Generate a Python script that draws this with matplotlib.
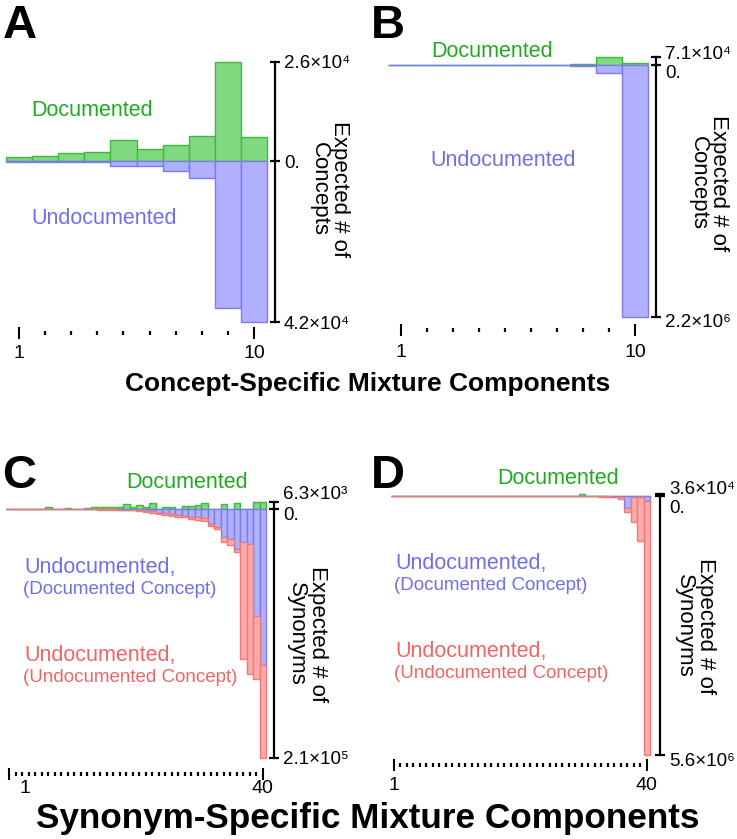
import matplotlib
matplotlib.use('Agg')
import matplotlib.pyplot as plt
import numpy as np
from matplotlib.transforms import ScaledTranslation

plt.rcParams['font.family'] = ['Liberation Sans', 'DejaVu Sans']

W, H, DPI = 737, 839, 100

# ---------------- data ----------------
# Panel A: concept-specific mixture components
a_components = list(range(1, 11))
a_documented = [1300, 1500, 2100, 2400, 5700, 3200, 4300, 6700, 26000, 6500]
a_undocumented = [100, 100, 200, 200, 1200, 1200, 2400, 4400, 38500, 42000]
a_ytick_labels = ['2.6×10⁴', '0.', '4.2×10⁴']
a_xtick_labels = ['1', '10']

# Panel B
b_components = list(range(1, 11))
b_documented = [0, 0, 0, 0, 200, 500, 1500, 3000, 71000, 14500]
b_undocumented = [300, 300, 400, 500, 1000, 2000, 4000, 14500, 73000, 2200000]
b_ytick_labels = ['7.1×10⁴', '0.', '2.2×10⁶']
b_xtick_labels = ['1', '10']

# Panel C: synonym-specific mixture components
c_components = list(range(1, 41))
c_documented = [0, 0, 0, 0, 100, 300, 1700, 200, 200, 1100,
                200, 200, 1100, 1400, 1400, 1700, 2200, 2200, 4500, 1700,
                3400, 2200, 5000, 300, 2200, 2200, 300, 2800, 2800, 3900,
                5000, 300, 500, 4500, 300, 5300, 300, 300, 6300, 6000]
c_undoc_doc_concept = [0, 0, 0, 0, 0, 10, 20, 30, 50, 60,
                       80, 100, 130, 160, 200, 250, 300, 380, 450, 560,
                       1100, 1700, 2000, 3400, 3400, 4500, 5000, 5600, 6400, 6900,
                       7800, 12500, 15400, 23500, 25800, 34000, 28000, 30000, 91000, 133000]
c_undoc_undoc_concept = [0, 0, 0, 0, 20, 30, 40, 50, 60, 80,
                         100, 120, 150, 180, 220, 260, 300, 350, 420, 540,
                         900, 1100, 1400, 1100, 1400, 1700, 1700, 1400, 1700, 2100,
                         2000, 2100, 2000, 4200, 5000, 2400, 100000, 110600, 53800, 79000]
c_ytick_labels = ['6.3×10³', '0.', '2.1×10⁵']
c_xtick_labels = ['1', '40']

# Panel D
d_components = list(range(1, 41))
d_documented = [0, 0, 0, 0, 0, 0, 0, 0, 0, 0,
                0, 0, 0, 0, 0, 0, 0, 0, 0, 500,
                0, 0, 800, 0, 0, 1500, 0, 0, 2000, 36000,
                0, 0, 3000, 0, 8000, 8000, 0, 0, 3000, 10000]
d_undoc_doc_concept = [0, 0, 0, 0, 0, 0, 0, 0, 0, 0,
                       0, 0, 0, 0, 0, 0, 0, 0, 100, 200,
                       300, 400, 500, 600, 800, 1000, 1200, 1500, 2000, 2500,
                       3000, 3500, 4000, 8000, 15000, 30000, 253000, 20000, 15000, 109000]
d_undoc_undoc_concept = [0, 0, 0, 0, 0, 0, 0, 0, 0, 0,
                         0, 0, 0, 0, 0, 0, 0, 0, 100, 200,
                         300, 400, 500, 700, 900, 1200, 1500, 2000, 3000, 4000,
                         5000, 7000, 9000, 12000, 16000, 28000, 95000, 545000, 963000, 5491000]
d_ytick_labels = ['3.6×10⁴', '0.', '5.6×10⁶']
d_xtick_labels = ['1', '40']

# ---------------- style ----------------
GREEN_FACE, GREEN_EDGE, GREEN_TEXT = '#80d880', '#3dba3d', '#1faa1f'
BLUE_FACE, BLUE_EDGE, BLUE_TEXT = '#b0b0ff', '#7b7bef', '#6f6fec'
RED_FACE, RED_EDGE, RED_TEXT = '#ffaaaa', '#f07a7a', '#f26464'

fig = plt.figure(figsize=(W / DPI, H / DPI), dpi=DPI)


def fx(px):
    return px / W


def fy(py):
    return 1 - py / H


def panel(rect, comps, doc, undocs, cols, ytl, xtl,
          right_out, bottom_out, ylab_offsets, xpad, first_xlab_dx=0):
    left, top, right, bottom = rect
    ax = fig.add_axes([fx(left), fy(bottom), fx(right) - fx(left), fy(top) - fy(bottom)])
    x = np.array(comps, dtype=float)
    ax.bar(x, doc, width=1.0, color=GREEN_FACE, edgecolor=GREEN_EDGE,
           linewidth=1.0, clip_on=False, zorder=2)
    base = np.zeros(len(x))
    for vals, (fc, ec) in zip(undocs, cols):
        v = np.array(vals, dtype=float)
        ax.bar(x, -v, bottom=-base, width=1.0, color=fc, edgecolor=ec,
               linewidth=1.0, clip_on=False, zorder=3)
        base = base + v
    top_v = max(doc)
    bot_v = base.max()
    ax.set_xlim(x[0] - 0.5, x[-1] + 0.5)
    ax.set_ylim(-bot_v, top_v)
    for s in ['left', 'top']:
        ax.spines[s].set_visible(False)
    ax.spines['bottom'].set_visible(False)
    ax.spines['bottom'].set_position(('outward', bottom_out * 72 / DPI))
    ax.spines['right'].set_position(('outward', right_out * 72 / DPI))
    ax.spines['right'].set_bounds(-bot_v, top_v)
    ax.spines['right'].set_linewidth(1.6)
    ax.yaxis.tick_right()
    ax.set_yticks([top_v, 0, -bot_v])
    ax.set_yticklabels(ytl)
    ax.tick_params(axis='y', direction='inout', length=7, width=1.6, pad=3,
                   labelsize=13.5, right=True, left=False)
    for lab, dy in zip(ax.get_yticklabels(), ylab_offsets):
        lab.set_transform(lab.get_transform() +
                          ScaledTranslation(0, -dy / DPI, fig.dpi_scale_trans))
    ax.set_xticks([x[0], x[-1]])
    ax.set_xticklabels(xtl)
    ax.set_xticks(x[1:-1], minor=True)
    ax.tick_params(axis='x', which='major', direction='inout', length=9, width=1.5,
                   labelsize=14, pad=xpad)
    ax.tick_params(axis='x', which='minor', direction='inout', length=3.5, width=1.6)
    if first_xlab_dx:
        lab = ax.get_xticklabels()[0]
        lab.set_transform(lab.get_transform() +
                          ScaledTranslation(first_xlab_dx / DPI, 0, fig.dpi_scale_trans))
    ax.set_facecolor('none')
    return ax


panel((6, 62.3, 267, 321.7), a_components, a_documented, [a_undocumented],
      [(BLUE_FACE, BLUE_EDGE)], a_ytick_labels, a_xtick_labels,
      right_out=8, bottom_out=11, ylab_offsets=[-1, 0, 1], xpad=4)
panel((388.3, 56.7, 648.3, 316.7), b_components, b_documented, [b_undocumented],
      [(BLUE_FACE, BLUE_EDGE)], b_ytick_labels, b_xtick_labels,
      right_out=8, bottom_out=13, ylab_offsets=[-4, 7, 4], xpad=6)
panel((6, 501.7, 266, 757.7), c_components, c_documented,
      [c_undoc_doc_concept, c_undoc_undoc_concept],
      [(BLUE_FACE, BLUE_EDGE), (RED_FACE, RED_EDGE)], c_ytick_labels, c_xtick_labels,
      right_out=8, bottom_out=16, ylab_offsets=[-9, 4, 0], xpad=0, first_xlab_dx=16)
panel((390.7, 494.3, 650, 755), d_components, d_documented,
      [d_undoc_doc_concept, d_undoc_undoc_concept],
      [(BLUE_FACE, BLUE_EDGE), (RED_FACE, RED_EDGE)], d_ytick_labels, d_xtick_labels,
      right_out=10, bottom_out=10, ylab_offsets=[-7, 11, 5], xpad=4)

# ---------------- texts ----------------
LBL = 15.5
SUB = 13.5
# panel A
fig.text(fx(92), fy(110), 'Documented', color=GREEN_TEXT, fontsize=LBL, ha='center', va='center')
fig.text(fx(104.5), fy(219), 'Undocumented', color=BLUE_TEXT, fontsize=LBL, ha='center', va='center')
# panel B
fig.text(fx(491.7), fy(51.7), 'Documented', color=GREEN_TEXT, fontsize=LBL, ha='center', va='center')
fig.text(fx(503.3), fy(160), 'Undocumented', color=BLUE_TEXT, fontsize=LBL, ha='center', va='center')
# panel C
fig.text(fx(187.5), fy(482.7), 'Documented', color=GREEN_TEXT, fontsize=LBL, ha='center', va='center')
fig.text(fx(24), fy(568), 'Undocumented,', color=BLUE_TEXT, fontsize=LBL, ha='left', va='center')
fig.text(fx(23), fy(590), '(Documented Concept)', color=BLUE_TEXT, fontsize=SUB, ha='left', va='center')
fig.text(fx(24), fy(655), 'Undocumented,', color=RED_TEXT, fontsize=LBL, ha='left', va='center')
fig.text(fx(23), fy(677), '(Undocumented Concept)', color=RED_TEXT, fontsize=SUB, ha='left', va='center')
# panel D
fig.text(fx(558), fy(478), 'Documented', color=GREEN_TEXT, fontsize=LBL, ha='center', va='center')
fig.text(fx(395), fy(564), 'Undocumented,', color=BLUE_TEXT, fontsize=LBL, ha='left', va='center')
fig.text(fx(394), fy(586), '(Documented Concept)', color=BLUE_TEXT, fontsize=SUB, ha='left', va='center')
fig.text(fx(395), fy(652), 'Undocumented,', color=RED_TEXT, fontsize=LBL, ha='left', va='center')
fig.text(fx(394), fy(673), '(Undocumented Concept)', color=RED_TEXT, fontsize=SUB, ha='left', va='center')

# y labels
for xp, yp, txt in [(329, 189, 'Expected # of\nConcepts'),
                    (708, 183, 'Expected # of\nConcepts'),
                    (307, 634, 'Expected # of\nSynonyms'),
                    (695, 626, 'Expected # of\nSynonyms')]:
    fig.text(fx(xp), fy(yp), txt, rotation=270, fontsize=16, ha='center', va='center',
             multialignment='center', linespacing=0.95, rotation_mode='anchor')

# panel letters
for xp, yp, letter in [(3, 38, 'A'), (371, 38, 'B'), (2, 488, 'C'), (371, 488, 'D')]:
    fig.text(fx(xp), fy(yp), letter, fontsize=34, fontweight='bold', ha='left', va='baseline')

# titles
fig.text(fx(368), fy(391), 'Concept-Specific Mixture Components', fontsize=19,
         fontweight='bold', ha='center', va='baseline')
fig.text(fx(368), fy(828), 'Synonym-Specific Mixture Components', fontsize=25.3,
         fontweight='bold', ha='center', va='baseline')

fig.savefig('out.png', dpi=DPI)
